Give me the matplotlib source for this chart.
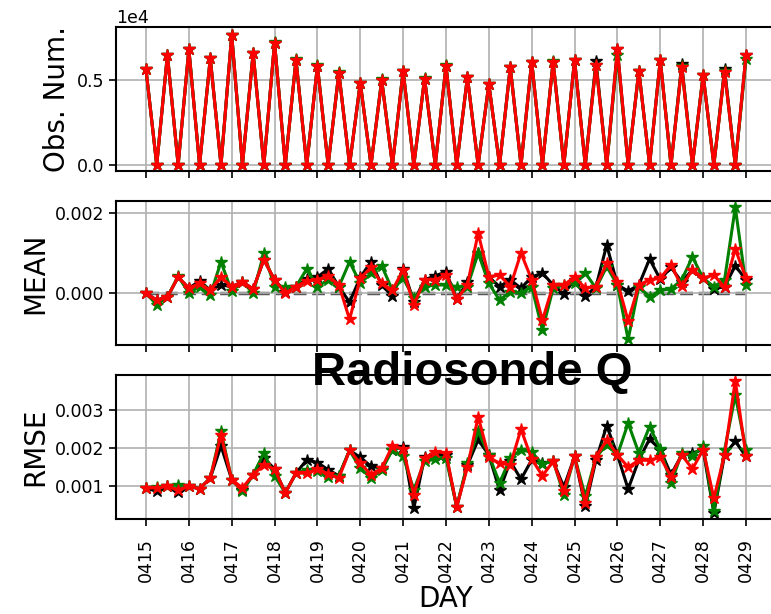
import numpy as np
import matplotlib
matplotlib.use("Agg")
import matplotlib.pyplot as plt

# 6-hourly times, days since 0415 00Z
days = ["0415", "0416", "0417", "0418", "0419", "0420", "0421", "0422",
        "0423", "0424", "0425", "0426", "0427", "0428", "0429"]
hours = np.arange(57) * 6

# observation numbers (black / green / red)
obs_red = [5630, 0, 6470, 0, 6800, 0, 6270, 0, 7650, 0, 6570, 0, 7200, 0, 6180, 0,
           5820, 0, 5430, 0, 4840, 0, 4980, 0, 5530, 0, 5080, 0, 5840, 0, 5160, 0,
           4760, 0, 5750, 0, 6080, 0, 6080, 0, 6180, 0, 5880, 0, 6800, 0, 5550, 0,
           6180, 0, 5780, 0, 5290, 0, 5490, 0, 6470]
obs_black = [5630, 0, 6470, 0, 6800, 0, 6270, 0, 7650, 0, 6570, 0, 7200, 0, 6180, 0,
             5820, 0, 5430, 0, 4840, 0, 4980, 0, 5530, 0, 5080, 0, 5840, 0, 5160, 0,
             4760, 0, 5750, 0, 6080, 0, 6080, 0, 6180, 0, 6100, 0, 6800, 0, 5550, 0,
             6180, 0, 5920, 0, 5290, 0, 5650, 0, 6470]
obs_green = [5630, 0, 6500, 0, 6820, 0, 6300, 0, 7650, 0, 6600, 0, 7220, 0, 6220, 0,
             5860, 0, 5460, 0, 4840, 0, 5040, 0, 5560, 0, 5120, 0, 5880, 0, 5200, 0,
             4760, 0, 5780, 0, 6080, 0, 6100, 0, 6180, 0, 5900, 0, 6470, 0, 5550, 0,
             6200, 0, 5800, 0, 5310, 0, 5520, 0, 6220]

# MEAN (x 1e-3)
mean_black = [0, -0.18, -0.10, 0.40, 0.12, 0.30, 0.07, 0.20, 0.16, 0.28, 0.10, 0.83,
              0.33, 0.03, 0.16, 0.34, 0.40, 0.60, 0.16, -0.23, 0.39, 0.78, 0.20, -0.08,
              0.60, -0.22, 0.33, 0.43, 0.53, -0.16, 0.28, 1.00, 0.40, 0.16, 0.33, 0.12,
              0.40, 0.50, 0.20, -0.02, 0.33, -0.08, 0.16, 1.20, 0.20, 0.05, 0.20, 0.85,
              0.34, 0.64, 0.28, 0.58, 0.37, 0.10, 0.16, 0.68, 0.33]
mean_green = [0, -0.30, -0.10, 0.42, 0.00, 0.16, -0.05, 0.78, 0.04, 0.28, -0.01, 1.00,
              0.16, 0.16, 0.16, 0.60, 0.16, 0.33, 0.16, 0.78, 0.24, 0.50, 0.68, 0.07,
              0.37, -0.13, 0.16, 0.20, 0.20, 0.16, 0.16, 1.00, 0.24, -0.18, 0.03, 0.00,
              0.16, -0.93, 0.12, 0.20, 0.24, 0.50, 0.12, 0.66, 0.20, -1.16, 0.16, -0.10,
              0.07, 0.10, 0.33, 0.90, 0.37, 0.16, 0.33, 2.14, 0.20]
mean_red = [0, -0.18, -0.10, 0.40, 0.12, 0.24, 0.07, 0.40, 0.16, 0.28, 0.10, 0.83,
            0.33, 0.00, 0.16, 0.30, 0.33, 0.43, 0.20, -0.66, 0.37, 0.64, 0.24, 0.07,
            0.58, -0.30, 0.33, 0.33, 0.45, -0.16, 0.20, 1.50, 0.40, 0.45, 0.16, 1.00,
            0.33, -0.68, 0.20, 0.20, 0.40, 0.12, 0.16, 0.74, 0.28, -0.70, 0.20, 0.33,
            0.37, 0.70, 0.17, 0.58, 0.37, 0.45, 0.14, 1.10, 0.37]

# RMSE (x 1e-3)
rmse_black = [0.95, 0.86, 0.99, 0.83, 0.99, 0.93, 1.21, 2.06, 1.17, 0.90, 1.30, 1.74,
              1.45, 0.82, 1.34, 1.69, 1.62, 1.43, 1.27, 1.94, 1.76, 1.52, 1.47, 1.96,
              2.04, 0.42, 1.76, 1.82, 1.82, 0.45, 1.55, 2.22, 1.82, 0.89, 1.65, 1.18,
              1.69, 1.60, 1.65, 0.97, 1.78, 0.46, 1.69, 2.59, 1.82, 0.92, 1.69, 2.24,
              1.96, 1.30, 1.82, 1.87, 1.96, 0.29, 1.82, 2.18, 1.78]
rmse_green = [0.95, 0.97, 0.99, 1.04, 0.99, 0.93, 1.21, 2.44, 1.17, 0.86, 1.30, 1.87,
              1.27, 0.82, 1.34, 1.43, 1.39, 1.24, 1.27, 1.94, 1.47, 1.21, 1.42, 1.96,
              1.78, 0.90, 1.65, 1.71, 1.74, 0.45, 1.60, 2.44, 1.82, 1.08, 1.74, 1.96,
              1.89, 1.58, 1.67, 0.77, 1.78, 0.73, 1.76, 2.09, 1.82, 2.66, 1.87, 2.57,
              1.97, 1.08, 1.86, 1.80, 2.06, 0.33, 1.95, 3.40, 1.96]
rmse_red = [0.95, 0.95, 0.99, 0.90, 0.99, 0.93, 1.21, 2.35, 1.17, 0.95, 1.30, 1.56,
            1.45, 0.82, 1.34, 1.34, 1.45, 1.32, 1.21, 1.94, 1.60, 1.30, 1.47, 2.06,
            1.98, 0.77, 1.74, 1.91, 1.87, 0.45, 1.50, 2.83, 1.76, 1.60, 1.56, 2.50,
            1.71, 1.27, 1.65, 0.86, 1.78, 0.55, 1.76, 2.22, 1.82, 1.50, 1.68, 1.68,
            1.76, 1.25, 1.82, 1.45, 1.96, 0.68, 1.82, 3.78, 1.80]

x = hours / 24.0
colors = ["k", "g", "r"]

fig = plt.figure(figsize=(7.71, 6.14), dpi=100)
W, H = 771.0, 614.0
left, width = 116 / W, 660 / W
ax1 = fig.add_axes([left, 1 - 171 / H, width, 144 / H])
ax2 = fig.add_axes([left, 1 - 345 / H, width, 144 / H], sharex=ax1)
ax3 = fig.add_axes([left, 1 - 519 / H, width, 144 / H], sharex=ax1)

style = dict(marker="*", markersize=9, linewidth=2.2)

for c, y in zip(colors, [obs_black, obs_green, obs_red]):
    ax1.plot(x, y, color=c, mec=c, **style)

ax2.plot([x[0], x[-1]], [0, 0], "--", color="0.35", lw=2.5, zorder=1)
for c, y in zip(colors, [mean_black, mean_green, mean_red]):
    ax2.plot(x, np.array(y) * 1e-3, color=c, mec=c, **style)

for c, y in zip(colors, [rmse_black, rmse_green, rmse_red]):
    ax3.plot(x, np.array(y) * 1e-3, color=c, mec=c, **style)

ax1.set_ylim(-353, 8120)
ax1.set_yticks([0, 5000])
ax1.ticklabel_format(axis="y", style="sci", scilimits=(4, 4))
ax1.yaxis.get_offset_text().set_fontsize(12.5)
ax2.set_ylim(-0.0013, 0.0023)
ax2.set_yticks([0.0, 0.002])
ax3.set_ylim(0.00013, 0.00393)
ax3.set_yticks([0.001, 0.002, 0.003])

ax1.set_xlim(-0.7, 14.7)
ax3.set_xticks(np.arange(len(days)))
ax3.set_xticklabels(days, rotation=90)

for ax in (ax1, ax2, ax3):
    ax.grid(True, color="#b0b0b0", lw=1.2)
    ax.tick_params(labelsize=12.5, length=5, width=1.2)
    for s in ax.spines.values():
        s.set_linewidth(1.5)
for ax in (ax1, ax2):
    ax.tick_params(labelbottom=False)
ax3.tick_params(axis="x", pad=9)

ax1.set_ylabel("Obs. Num.", fontsize=20)
ax2.set_ylabel("MEAN", fontsize=20)
ax3.set_ylabel("RMSE", fontsize=20)
ax3.set_xlabel("DAY", fontsize=20, labelpad=2)

fig.text(472 / W, 1 - 373 / H, "Radiosonde Q", ha="center", va="center",
         fontsize=34, fontweight="bold", family="Liberation Sans")

fig.savefig("out.png", dpi=100)
